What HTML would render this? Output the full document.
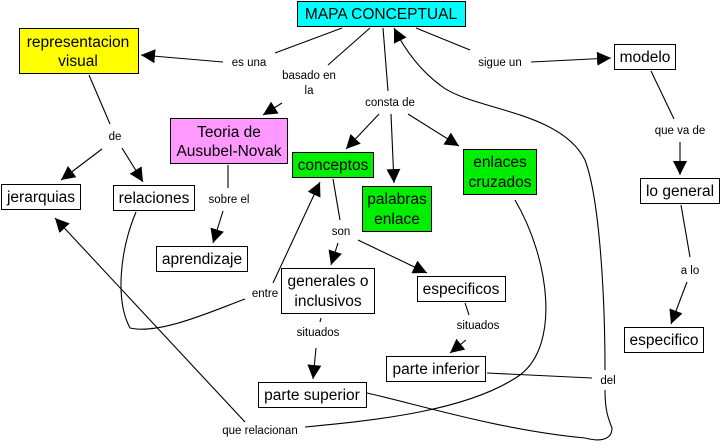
<!DOCTYPE html>
<html><head><meta charset="utf-8"><style>
body{margin:0;background:#fff;}
svg{display:block;font-family:"Liberation Sans",sans-serif;}
.n{font-size:15.5px;fill:#000;text-anchor:middle;}
.l{font-size:11.5px;fill:#000;text-anchor:middle;}
.r{stroke:#000;stroke-width:1;}
path,line{stroke:#000;stroke-width:1.1;fill:none;}
marker path{fill:#000;stroke:none;}
</style></head><body>
<svg width="721" height="444" viewBox="0 0 721 444">
<defs><marker id="a" viewBox="0 0 10 10" refX="10" refY="5" markerWidth="14" markerHeight="14" markerUnits="userSpaceOnUse" orient="auto"><path d="M0,0L10,5L0,10z"/></marker></defs>
<line x1="342" y1="28" x2="275" y2="53"/>
<line x1="223" y1="62" x2="141" y2="55" marker-end="url(#a)"/>
<line x1="370" y1="28" x2="328" y2="65"/>
<line x1="282" y1="103" x2="263" y2="115" marker-end="url(#a)"/>
<line x1="383" y1="28" x2="388" y2="91"/>
<line x1="379" y1="114" x2="346" y2="149" marker-end="url(#a)"/>
<line x1="391" y1="114" x2="394" y2="183" marker-end="url(#a)"/>
<line x1="408" y1="114" x2="459" y2="146" marker-end="url(#a)"/>
<line x1="416" y1="28" x2="470" y2="50"/>
<line x1="531" y1="62" x2="611" y2="58" marker-end="url(#a)"/>
<line x1="651" y1="71" x2="674" y2="119"/>
<line x1="680" y1="142" x2="680" y2="175" marker-end="url(#a)"/>
<line x1="681" y1="205" x2="690" y2="257"/>
<line x1="687" y1="282" x2="671" y2="324" marker-end="url(#a)"/>
<line x1="89" y1="75" x2="110" y2="124"/>
<line x1="102" y1="149" x2="61" y2="180" marker-end="url(#a)"/>
<line x1="122" y1="148" x2="143" y2="182" marker-end="url(#a)"/>
<line x1="228" y1="165" x2="228" y2="188"/>
<line x1="223" y1="211" x2="213" y2="243" marker-end="url(#a)"/>
<line x1="333" y1="179" x2="340" y2="220"/>
<line x1="338" y1="243" x2="331" y2="265" marker-end="url(#a)"/>
<line x1="358" y1="240" x2="427" y2="273" marker-end="url(#a)"/>
<line x1="321" y1="318" x2="320" y2="322"/>
<line x1="316" y1="348" x2="313" y2="379" marker-end="url(#a)"/>
<line x1="465" y1="303" x2="469" y2="315"/>
<line x1="466" y1="340" x2="450" y2="353" marker-end="url(#a)"/>
<line x1="487" y1="373" x2="592" y2="378"/>
<line x1="245" y1="422" x2="55" y2="218" marker-end="url(#a)"/>
<path d="M305,427 C380,420 470,410 520,375 C560,345 550,260 515,200"/>
<path d="M136,212 C120,250 115,300 130,328 C160,335 215,310 245,299"/>
<path d="M273,283 L320,182" marker-end="url(#a)"/>
<path d="M605,370 C605,300 600,200 585,160 C560,110 470,110 440,85 C420,70 405,50 394,28" marker-end="url(#a)"/>
<path d="M605,390 C605,410 608,418 612,428 C612,440 600,442 585,438 C500,430 420,405 367,393"/>
<rect x="297.5" y="1.5" width="168" height="25" fill="#00ffff" class="r"/>
<text x="381" y="19" class="n">MAPA CONCEPTUAL</text>
<rect x="19.5" y="28.5" width="119" height="45" fill="#ffff00" class="r"/>
<text x="78" y="47" class="n">representacion</text><text x="78" y="66" class="n">visual</text>
<rect x="170.5" y="118.5" width="117" height="45" fill="#ff99ff" class="r"/>
<text x="229" y="137" class="n">Teoria de</text><text x="229" y="156" class="n">Ausubel-Novak</text>
<rect x="292.5" y="152.5" width="81" height="25" fill="#00ee00" class="r"/>
<text x="333" y="170" class="n">conceptos</text>
<rect x="362.5" y="186.5" width="69" height="45" fill="#00ee00" class="r"/>
<text x="397" y="204" class="n">palabras</text><text x="397" y="224" class="n">enlace</text>
<rect x="463.5" y="149.5" width="73" height="45" fill="#00ee00" class="r"/>
<text x="500" y="167" class="n">enlaces</text><text x="500" y="187" class="n">cruzados</text>
<rect x="614.5" y="44.5" width="61" height="25" fill="#fff" class="r"/>
<text x="645" y="62" class="n">modelo</text>
<rect x="640.5" y="178.5" width="79" height="25" fill="#fff" class="r"/>
<text x="680" y="196" class="n">lo general</text>
<rect x="624.5" y="327.5" width="79" height="25" fill="#fff" class="r"/>
<text x="664" y="345" class="n">especifico</text>
<rect x="1.5" y="184.5" width="79" height="25" fill="#fff" class="r"/>
<text x="41" y="202" class="n">jerarquias</text>
<rect x="113.5" y="185.5" width="81" height="25" fill="#fff" class="r"/>
<text x="154" y="203" class="n">relaciones</text>
<rect x="156.5" y="246.5" width="91" height="25" fill="#fff" class="r"/>
<text x="202" y="264" class="n">aprendizaje</text>
<rect x="281.5" y="268.5" width="93" height="45" fill="#fff" class="r"/>
<text x="328" y="286" class="n">generales o</text><text x="328" y="306" class="n">inclusivos</text>
<rect x="417.5" y="276.5" width="88" height="25" fill="#fff" class="r"/>
<text x="461" y="294" class="n">especificos</text>
<rect x="386.5" y="356.5" width="99" height="25" fill="#fff" class="r"/>
<text x="436" y="374" class="n">parte inferior</text>
<rect x="258.5" y="382.5" width="108" height="25" fill="#fff" class="r"/>
<text x="312" y="400" class="n">parte superior</text>
<text x="249" y="66" class="l">es una</text>
<text x="309" y="79" class="l">basado en</text><text x="309" y="94" class="l">la</text>
<text x="390" y="106" class="l">consta de</text>
<text x="500" y="66" class="l">sigue un</text>
<text x="115" y="140" class="l">de</text>
<text x="229" y="203" class="l">sobre el</text>
<text x="680" y="134" class="l">que va de</text>
<text x="341" y="235" class="l">son</text>
<text x="690" y="274" class="l">a lo</text>
<text x="265" y="297" class="l">entre</text>
<text x="318" y="336" class="l">situados</text>
<text x="478" y="329" class="l">situados</text>
<text x="608" y="384" class="l">del</text>
<text x="260" y="434" class="l">que relacionan</text>
</svg>
</body></html>
